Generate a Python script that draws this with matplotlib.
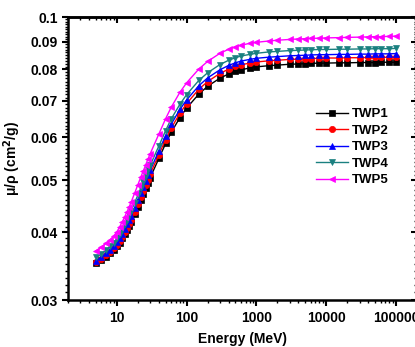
import matplotlib
matplotlib.use("Agg")
import matplotlib.pyplot as plt
from matplotlib.ticker import FixedLocator, NullFormatter, LogLocator

plt.rcParams['font.family'] = ['Liberation Sans', 'DejaVu Sans']

# photon energy grid (MeV)
energy = [5, 6, 7, 8, 9, 10, 11, 12, 13, 14, 15, 16, 18, 20, 22, 24, 26, 28, 30,
          40, 50, 60, 80, 100, 150, 200, 300, 400, 500, 600, 800, 1000, 1500,
          2000, 3000, 4000, 5000, 6000, 8000, 10000, 15000, 20000, 30000, 40000,
          50000, 60000, 80000, 100000]

twp1 = [0.0351, 0.0356, 0.0361, 0.0366, 0.0371, 0.0377, 0.0383, 0.0390, 0.0397, 0.0404,
        0.0411, 0.0418, 0.0432, 0.0446, 0.0459, 0.0471, 0.0483, 0.0494, 0.0505,
        0.0548, 0.0584, 0.0612, 0.0652, 0.0679, 0.0721, 0.0745, 0.0771, 0.0785, 0.0794,
        0.0799, 0.0805, 0.0809, 0.0813, 0.0815, 0.0818, 0.0819, 0.0820, 0.0821, 0.0822,
        0.0822, 0.0823, 0.0823, 0.0824, 0.0824, 0.0824, 0.0825, 0.0825, 0.0825]

twp2 = [0.0353, 0.0358, 0.0363, 0.0368, 0.0374, 0.0380, 0.0386, 0.0393, 0.0400, 0.0408,
        0.0415, 0.0422, 0.0437, 0.0451, 0.0465, 0.0478, 0.0490, 0.0501, 0.0513,
        0.0557, 0.0594, 0.0623, 0.0664, 0.0692, 0.0736, 0.0760, 0.0787, 0.0801, 0.0811,
        0.0816, 0.0822, 0.0826, 0.0830, 0.0832, 0.0835, 0.0836, 0.0837, 0.0838, 0.0839,
        0.0840, 0.0840, 0.0841, 0.0841, 0.0842, 0.0842, 0.0842, 0.0843, 0.0843]

twp3 = [0.0355, 0.0360, 0.0366, 0.0371, 0.0377, 0.0384, 0.0391, 0.0398, 0.0406, 0.0414,
        0.0422, 0.0429, 0.0444, 0.0459, 0.0473, 0.0486, 0.0498, 0.0510, 0.0521,
        0.0566, 0.0604, 0.0634, 0.0675, 0.0703, 0.0747, 0.0772, 0.0799, 0.0814, 0.0823,
        0.0829, 0.0835, 0.0839, 0.0843, 0.0845, 0.0848, 0.0849, 0.0850, 0.0851, 0.0852,
        0.0852, 0.0853, 0.0853, 0.0854, 0.0854, 0.0855, 0.0855, 0.0855, 0.0856]

twp4 = [0.0360, 0.0365, 0.0371, 0.0377, 0.0383, 0.0390, 0.0398, 0.0406, 0.0414, 0.0422,
        0.0430, 0.0438, 0.0454, 0.0469, 0.0483, 0.0496, 0.0509, 0.0521, 0.0532,
        0.0578, 0.0617, 0.0648, 0.0690, 0.0719, 0.0764, 0.0789, 0.0817, 0.0832, 0.0841,
        0.0847, 0.0853, 0.0857, 0.0862, 0.0864, 0.0867, 0.0868, 0.0869, 0.0870, 0.0871,
        0.0871, 0.0872, 0.0872, 0.0873, 0.0873, 0.0874, 0.0874, 0.0874, 0.0875]

twp5 = [0.0370, 0.0376, 0.0382, 0.0388, 0.0394, 0.0401, 0.0410, 0.0419, 0.0428, 0.0437,
        0.0446, 0.0455, 0.0473, 0.0490, 0.0506, 0.0520, 0.0534, 0.0547, 0.0559,
        0.0608, 0.0649, 0.0681, 0.0726, 0.0756, 0.0802, 0.0828, 0.0857, 0.0872, 0.0881,
        0.0887, 0.0894, 0.0898, 0.0903, 0.0906, 0.0909, 0.0911, 0.0912, 0.0913, 0.0914,
        0.0915, 0.0916, 0.0917, 0.0918, 0.0919, 0.0920, 0.0920, 0.0921, 0.0922]

labels = ["TWP1", "TWP2", "TWP3", "TWP4", "TWP5"]
series = [twp1, twp2, twp3, twp4, twp5]
colors = ["black", "red", "blue", "#1a8080", "magenta"]
markers = ["s", "o", "^", "v", "<"]

y_ticks = [0.03, 0.04, 0.05, 0.06, 0.07, 0.08, 0.09, 0.1]
y_tick_labels = ["0.03", "0.04", "0.05", "0.06", "0.07", "0.08", "0.09", "0.1"]
x_ticks = [10, 100, 1000, 10000, 100000]
x_tick_labels = ["10", "100", "1000", "10000", "100000"]

fig = plt.figure(figsize=(4.15, 3.47), dpi=100)
ax = fig.add_axes([0.164, 0.135, 0.841, 0.816])

for vals, lab, c, m in zip(series, labels, colors, markers):
    ax.plot(energy, vals, color=c, marker=m, markersize=4.5, linewidth=1.0,
            markeredgewidth=0.5, markeredgecolor=c, label=lab)

ax.set_xscale("log")
ax.set_yscale("log")
ax.set_xlim(2, 2e5)
ax.set_ylim(0.03, 0.1)

y_minor = [0.001 * k for k in range(31, 100) if k % 10]

ax.xaxis.set_major_locator(FixedLocator(x_ticks))
ax.set_xticklabels(x_tick_labels)
ax.xaxis.set_minor_locator(LogLocator(base=10, subs=range(2, 10), numticks=20))
ax.xaxis.set_minor_formatter(NullFormatter())

ax.yaxis.set_major_locator(FixedLocator(y_ticks))
ax.set_yticklabels(y_tick_labels)
ax.yaxis.set_minor_locator(FixedLocator(y_minor))
ax.yaxis.set_minor_formatter(NullFormatter())

for s in ax.spines.values():
    s.set_linewidth(1.8)

ax.tick_params(axis="both", which="major", direction="out", length=4, width=1.5,
               labelsize=10)
ax.tick_params(axis="both", which="minor", direction="out", length=2, width=1)
for lab in ax.get_xticklabels() + ax.get_yticklabels():
    lab.set_fontweight("bold")

# mirrored ticks on top/right, pointing inward
top = ax.secondary_xaxis("top")
top.xaxis.set_major_locator(FixedLocator(x_ticks))
top.xaxis.set_minor_locator(LogLocator(base=10, subs=range(2, 10), numticks=20))
top.xaxis.set_major_formatter(NullFormatter())
top.xaxis.set_minor_formatter(NullFormatter())
top.tick_params(which="major", direction="in", length=4, width=1.5)
top.tick_params(which="minor", direction="in", length=2, width=1)
top.spines["top"].set_linewidth(1.8)

right = ax.secondary_yaxis("right")
right.yaxis.set_major_locator(FixedLocator(y_ticks))
right.yaxis.set_minor_locator(FixedLocator(y_minor))
right.yaxis.set_major_formatter(NullFormatter())
right.yaxis.set_minor_formatter(NullFormatter())
right.tick_params(which="major", direction="in", length=4, width=1.5)
right.tick_params(which="minor", direction="in", length=2, width=1)
right.spines["right"].set_linewidth(1.8)

ax.set_xlabel("Energy (MeV)", fontsize=10, fontweight="bold", labelpad=5)
ax.set_ylabel("\u03bc/\u03c1 (cm$^\\mathbf{2}$/g)", fontsize=10, fontweight="bold", labelpad=5)

leg = ax.legend(loc="upper left", bbox_to_anchor=(0.74, 0.715), bbox_transform=fig.transFigure,
                frameon=False, fontsize=9.5, handlelength=2.4, handletextpad=0.3,
                labelspacing=0.32, borderpad=0.2)
for t in leg.get_texts():
    t.set_fontweight("bold")

fig.savefig("out.png", dpi=100)
